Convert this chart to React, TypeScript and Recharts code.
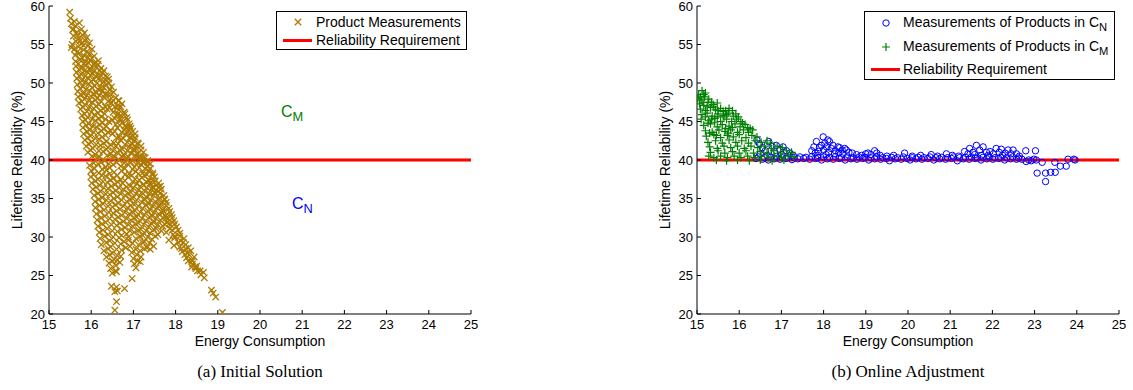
import { ScatterChart, Scatter, XAxis, YAxis, ReferenceLine } from "recharts";

const FONT = '"Liberation Sans", Arial, Helvetica, sans-serif';
const SERIF = '"Liberation Serif", "Times New Roman", serif';

const X_TICKS = [15, 16, 17, 18, 19, 20, 21, 22, 23, 24, 25];
const Y_TICKS = [20, 25, 30, 35, 40, 45, 50, 55, 60];
const REQUIREMENT = 40;

const GOLD = "#ad7a00";
const GREEN = "#008000";
const BLUE = "#0000ff";
const RED = "#ff0000";

// (a) initial solution: product measurements (energy, reliability)
const initialPoints: [number, number][] = [
  [15.49, 59.2], [15.51, 58.4], [15.6, 58.0], [15.53, 57.7], [15.63, 57.4], [15.72, 57.8],
  [15.56, 56.9], [15.66, 56.6], [15.77, 57.0], [15.84, 56.5], [15.58, 56.1], [15.7, 55.8], [15.8, 56.2], [15.9, 55.9],
  [15.55, 55.0], [15.64, 55.4], [15.76, 55.1], [15.86, 55.5], [15.96, 55.2],
  [15.53, 54.6], [15.6, 54.4], [15.7, 54.7], [15.82, 54.3], [15.92, 54.8], [16.02, 54.4],
  [15.62, 53.6], [15.72, 53.9], [15.84, 53.5], [15.96, 53.8], [16.07, 53.5],
  [15.63, 52.8], [15.74, 53.1], [15.86, 52.7], [15.98, 53.0], [16.08, 52.6], [16.17, 52.9],
  [15.64, 52.2], [15.76, 51.9], [15.88, 52.3], [16.0, 51.8], [16.12, 52.1], [16.23, 51.9],
  [15.65, 51.4], [15.77, 51.1], [15.9, 51.5], [16.03, 51.2], [16.15, 51.0], [16.27, 51.3], [16.34, 50.9],
  [15.66, 50.6], [15.78, 50.3], [15.92, 50.7], [16.05, 50.4], [16.18, 50.6], [16.3, 50.2], [16.41, 50.5],
  [15.67, 49.8], [15.8, 49.5], [15.94, 49.9], [16.08, 49.6], [16.22, 49.3], [16.35, 49.8], [16.48, 49.5],
  [15.68, 48.9], [15.82, 48.6], [15.96, 49.0], [16.12, 48.7], [16.26, 48.9], [16.4, 48.5], [16.53, 48.8],
  [15.69, 48.2], [15.84, 47.9], [15.99, 48.3], [16.14, 48.0], [16.3, 48.2], [16.44, 47.8], [16.58, 48.1], [16.66, 47.7],
  [15.71, 47.4], [15.86, 47.1], [16.02, 47.5], [16.18, 47.2], [16.34, 46.9], [16.48, 47.4], [16.62, 47.0], [16.73, 47.3],
  [15.75, 46.6], [15.9, 46.3], [16.06, 46.7], [16.22, 46.4], [16.38, 46.6], [16.52, 46.2], [16.66, 46.5], [16.78, 46.2],
  [15.78, 45.8], [15.92, 45.5], [16.08, 45.9], [16.24, 45.6], [16.56, 45.4], [16.7, 45.8], [16.84, 45.5],
  [15.8, 45.0], [15.94, 44.7], [16.1, 45.1], [16.26, 44.8], [16.42, 45.0], [16.58, 44.6], [16.74, 44.9], [16.9, 44.7],
  [15.8, 44.2], [15.96, 43.9], [16.12, 44.3], [16.3, 44.0], [16.46, 43.8], [16.62, 44.2], [16.78, 43.9], [16.94, 44.1],
  [15.82, 43.4], [15.98, 43.1], [16.16, 43.5], [16.34, 43.2], [16.5, 43.4], [16.66, 43.0], [16.82, 43.3], [16.98, 43.1], [17.04, 43.4],
  [15.85, 42.6], [16.0, 42.3], [16.18, 42.7], [16.36, 42.4], [16.54, 42.2], [16.7, 42.6], [16.86, 42.3], [17.02, 42.5], [17.1, 42.2],
  [15.88, 41.8], [16.04, 41.5], [16.22, 41.9], [16.4, 41.6], [16.58, 41.8], [16.74, 41.4], [16.9, 41.7], [17.06, 41.5], [17.18, 41.8],
  [15.92, 41.0], [16.1, 40.7], [16.28, 41.1], [16.46, 40.8], [16.62, 41.0], [16.78, 40.6], [16.94, 40.9], [17.1, 40.7], [17.24, 41.0],
  [16.14, 40.2], [16.32, 39.9], [16.5, 40.3], [16.66, 40.0], [16.82, 40.2], [16.98, 39.9], [17.14, 40.1], [17.28, 40.3], [17.34, 39.9],
  [15.96, 39.3], [16.16, 39.5], [16.34, 39.1], [16.52, 39.4], [16.7, 39.2], [16.86, 39.5], [17.02, 39.1], [17.18, 39.4], [17.32, 39.2], [17.4, 39.5],
  [16.0, 38.6], [16.18, 38.3], [16.36, 38.7], [16.54, 38.4], [16.72, 38.6], [16.9, 38.2], [17.06, 38.5], [17.22, 38.3], [17.36, 38.6], [17.46, 38.3],
  [15.99, 37.8], [16.16, 37.5], [16.34, 37.9], [16.52, 37.6], [16.7, 37.4], [16.88, 37.8], [17.04, 37.5], [17.2, 37.7], [17.36, 37.4], [17.5, 37.8],
  [16.01, 37.0], [16.2, 36.7], [16.38, 37.1], [16.56, 36.8], [16.74, 37.0], [16.92, 36.6], [17.08, 36.9], [17.24, 36.7], [17.4, 37.0], [17.54, 36.7], [17.6, 37.0],
  [16.04, 36.2], [16.22, 35.9], [16.4, 36.3], [16.58, 36.0], [16.76, 36.2], [16.94, 35.8], [17.12, 36.1], [17.28, 35.9], [17.44, 36.2], [17.58, 35.9], [17.66, 36.2],
  [16.07, 35.4], [16.26, 35.1], [16.44, 35.5], [16.62, 35.2], [16.8, 35.4], [16.98, 35.0], [17.16, 35.3], [17.32, 35.1], [17.48, 35.4], [17.62, 35.1], [17.72, 35.4],
  [16.09, 34.6], [16.28, 34.3], [16.46, 34.7], [16.64, 34.4], [16.84, 34.6], [17.02, 34.2], [17.2, 34.5], [17.36, 34.3], [17.52, 34.6], [17.66, 34.3], [17.78, 34.5],
  [16.1, 33.8], [16.3, 33.5], [16.5, 33.9], [16.68, 33.6], [16.86, 33.8], [17.04, 33.4], [17.22, 33.7], [17.4, 33.5], [17.56, 33.8], [17.7, 33.5], [17.84, 33.7],
  [16.12, 33.0], [16.32, 32.7], [16.52, 33.1], [16.72, 32.8], [16.9, 33.0], [17.08, 32.6], [17.26, 32.9], [17.44, 32.7], [17.6, 33.0], [17.76, 32.7], [17.9, 32.9],
  [16.14, 32.2], [16.34, 31.9], [16.56, 32.3], [16.76, 32.0], [16.94, 32.2], [17.12, 31.8], [17.3, 32.1], [17.48, 31.9], [17.64, 32.2], [17.8, 31.9], [17.96, 32.1],
  [16.16, 31.4], [16.38, 31.1], [16.6, 31.5], [16.8, 31.2], [16.98, 31.4], [17.18, 31.0], [17.36, 31.3], [17.54, 31.1], [17.7, 31.4], [17.86, 31.1], [18.02, 31.3],
  [16.19, 30.6], [16.4, 30.3], [16.62, 30.7], [16.84, 30.4], [17.02, 30.6], [17.22, 30.2], [17.4, 30.5], [17.58, 30.3], [17.78, 30.6], [17.94, 30.3], [18.1, 30.5],
  [16.21, 29.8], [16.44, 29.5], [16.66, 29.9], [16.88, 29.6], [17.06, 29.8], [17.26, 29.4], [17.44, 29.7], [17.84, 29.6], [17.98, 29.9], [18.12, 29.5], [18.2, 29.8],
  [16.24, 29.0], [16.46, 28.7], [16.7, 29.1], [16.92, 28.8], [17.12, 29.0], [17.32, 28.6], [17.48, 28.8], [17.96, 28.9], [18.1, 28.7], [18.24, 29.0], [18.3, 28.6],
  [16.3, 28.2], [16.5, 27.9], [16.72, 28.3], [16.96, 28.0], [17.16, 28.2], [17.4, 28.4], [18.16, 28.1], [18.28, 27.9], [18.36, 28.2],
  [16.36, 27.4], [16.54, 27.1], [16.7, 27.5], [17.0, 27.2], [17.18, 27.4], [18.26, 27.3], [18.38, 27.0], [18.44, 27.4],
  [16.42, 26.6], [16.58, 26.3], [16.68, 26.7], [17.02, 26.5], [17.16, 26.8], [18.4, 26.5], [18.5, 26.2],
  [16.46, 25.9], [16.58, 25.6], [17.06, 26.0], [18.48, 25.9], [18.58, 25.6],
  [16.5, 25.3], [16.6, 25.5], [18.6, 25.1], [18.66, 25.4], [16.97, 24.6], [18.68, 24.7],
  [17.6, 34.0], [17.68, 33.2], [17.74, 34.9], [17.5, 35.8], [17.64, 36.6], [17.46, 36.4], [17.82, 32.4], [17.88, 31.6],
  [16.48, 23.6], [16.6, 23.5], [16.56, 22.9], [16.62, 23.0], [16.79, 23.3], [16.6, 21.6], [16.56, 20.5],
  [18.85, 23.1], [18.89, 22.7], [18.95, 22.2], [19.11, 20.2],
  // denser upper part
  [15.58, 57.0], [15.68, 56.2], [15.74, 55.5], [15.82, 54.9], [15.66, 54.0], [15.9, 54.1], [15.78, 53.3], [15.92, 53.3],
  [16.02, 53.2], [15.7, 52.5], [15.82, 52.5], [15.94, 52.6], [16.06, 52.4], [16.16, 52.4], [15.72, 51.7], [15.84, 51.6],
  [15.96, 51.8], [16.08, 51.6], [16.2, 51.6], [16.3, 51.6], [15.72, 50.9], [15.86, 50.9], [16.0, 51.0], [16.12, 50.8],
  [16.24, 50.9], [16.38, 50.8], [15.74, 50.1], [15.86, 50.1], [16.0, 50.2], [16.14, 50.0], [16.26, 50.0], [16.42, 50.0],
  [15.74, 49.3], [15.88, 49.2], [16.02, 49.4], [16.16, 49.2], [16.3, 49.4], [16.44, 49.1], [15.76, 48.5], [15.9, 48.4],
  [16.06, 48.6], [16.2, 48.4], [16.34, 48.6], [15.78, 47.6], [15.94, 47.7], [16.1, 47.8], [16.24, 47.6], [16.4, 47.6],
  [15.8, 46.9], [15.96, 46.9], [16.12, 47.0], [16.28, 46.7], [16.44, 46.8], [15.84, 46.0], [16.0, 46.2], [16.16, 46.1],
  [16.32, 46.0], [16.62, 45.9], [15.86, 45.2], [16.02, 45.3], [16.18, 45.4], [16.34, 45.3], [16.5, 45.2], [16.66, 45.2],
  // denser right-edge band
  [16.46, 48.5], [16.64, 47.7], [16.52, 47.7], [16.7, 46.9], [16.56, 46.9], [16.8, 46.0], [16.64, 46.0],
  [16.86, 45.2], [16.72, 45.2], [16.92, 44.4], [16.8, 44.4], [16.98, 43.7], [16.86, 43.7], [17.04, 42.9], [16.92, 42.9],
  [17.12, 42.1], [16.98, 42.1], [17.18, 41.3], [17.04, 41.3], [17.24, 40.4], [17.12, 40.4], [17.34, 39.7], [17.22, 39.7],
  [17.4, 38.9], [17.28, 38.9], [17.46, 38.1], [17.32, 38.1], [17.52, 37.3], [17.38, 37.3], [17.6, 36.5], [17.46, 36.5],
  [17.64, 35.7], [17.52, 35.7], [17.74, 34.9], [17.6, 34.9], [17.78, 34.1], [17.64, 34.1], [17.86, 33.3], [17.72, 33.3],
  [17.92, 32.5], [17.78, 32.5], [17.98, 31.7], [17.84, 31.7], [18.06, 30.9], [17.92, 30.9], [18.1, 30.1], [17.98, 30.1],
  [18.18, 29.3], [18.06, 29.3], [18.24, 28.5], [18.14, 28.5], [18.32, 27.7], [18.22, 27.7], [18.4, 26.9], [18.3, 26.9],
  [18.46, 26.1], [18.38, 26.1], [18.52, 25.6],
  // interior fill
  [15.88, 44.5], [16.04, 44.4], [16.2, 44.6], [16.36, 44.4], [16.68, 44.5], [16.84, 44.3],
  [15.9, 43.7], [16.06, 43.6], [16.24, 43.8], [16.4, 43.6], [16.56, 43.7], [16.72, 43.6], [16.9, 43.8],
  [15.92, 42.9], [16.1, 42.8], [16.26, 43.0], [16.6, 42.9], [16.76, 42.8], [16.94, 43.0],
  [15.94, 42.1], [16.12, 42.0], [16.3, 42.2], [16.46, 42.0], [16.64, 42.1], [16.8, 42.0], [16.96, 42.2],
  [15.98, 41.3], [16.18, 41.2], [16.36, 41.4], [16.52, 41.2], [16.68, 41.3], [16.86, 41.2], [17.0, 41.4],
  [16.02, 40.5], [16.2, 40.4], [16.38, 40.6], [16.56, 40.4], [16.72, 40.5], [16.88, 40.4], [17.04, 40.6], [17.18, 40.4],
  [16.06, 39.6], [16.24, 39.7], [16.42, 39.5], [16.6, 39.7], [16.78, 39.6], [16.94, 39.7], [17.1, 39.6], [17.26, 39.7],
  [16.08, 38.9], [16.26, 38.8], [16.44, 39.0], [16.8, 38.9], [16.98, 38.8], [17.14, 39.0],
  [16.06, 38.1], [16.26, 38.0], [16.44, 38.2], [16.62, 38.0], [16.8, 38.1], [16.96, 38.0], [17.12, 38.2], [17.26, 38.0],
  [16.1, 37.3], [16.28, 37.2], [16.46, 37.4], [16.62, 37.2], [16.8, 37.3], [16.98, 37.2], [17.14, 37.4], [17.3, 37.2], [17.46, 37.3],
  [16.12, 36.5], [16.3, 36.4], [16.48, 36.6], [16.66, 36.4], [16.84, 36.5], [17.0, 36.4], [17.16, 36.6], [17.32, 36.4],
  [16.16, 35.7], [16.34, 35.6], [16.52, 35.8], [16.7, 35.6], [16.88, 35.7], [17.06, 35.6], [17.2, 35.8], [17.38, 35.6],
  [16.18, 34.9], [16.36, 34.8], [16.54, 35.0], [16.72, 34.8], [16.92, 34.9], [17.08, 34.8], [17.26, 35.0], [17.42, 34.8],
  [16.2, 34.1], [16.4, 34.0], [16.58, 34.2], [16.76, 34.0], [16.94, 34.1], [17.12, 34.0], [17.3, 34.2], [17.46, 34.0],
  [16.22, 33.3], [16.42, 33.2], [16.6, 33.4], [16.8, 33.2], [16.98, 33.3], [17.16, 33.2], [17.34, 33.4], [17.5, 33.2],
  [16.24, 32.5], [16.44, 32.4], [16.64, 32.6], [16.84, 32.4], [17.02, 32.5], [17.2, 32.4], [17.38, 32.6], [17.54, 32.4], [17.7, 32.5],
  [16.26, 31.7], [16.48, 31.6], [16.68, 31.8], [16.88, 31.6], [17.06, 31.7], [17.24, 31.6], [17.42, 31.8], [17.58, 31.6], [17.74, 31.7],
  [16.28, 30.9], [16.5, 30.8], [16.72, 31.0], [16.92, 30.8], [17.12, 30.9], [17.3, 30.8], [17.48, 31.0], [17.66, 30.8],
  [16.32, 30.1], [16.52, 30.0], [16.72, 30.2], [16.88, 30.0], [17.16, 30.1], [17.34, 30.0], [17.52, 30.1],
  [16.36, 29.3], [16.56, 29.2], [16.78, 29.4], [16.98, 29.2], [17.22, 29.3], [17.38, 29.2],
  [16.4, 28.5], [16.6, 28.4], [16.82, 28.6], [17.06, 28.4], [17.26, 28.5],
  [16.44, 27.7], [16.62, 27.6], [17.08, 27.7], [16.5, 26.9], [16.62, 27.0], [17.1, 26.9],
];

// (b) online adjustment: products in C_M
const cmPoints: [number, number][] = [
  [15.04, 48.5], [15.12, 49.0], [15.2, 48.7],
  [15.02, 48.0], [15.1, 47.8], [15.18, 48.2], [15.28, 47.9],
  [15.06, 47.3], [15.16, 47.1], [15.26, 47.5], [15.38, 47.2], [15.48, 47.4],
  [15.08, 46.6], [15.2, 46.4], [15.32, 46.8], [15.44, 46.5], [15.56, 46.7], [15.68, 46.4], [15.76, 46.7],
  [15.12, 45.9], [15.24, 46.1], [15.36, 45.7], [15.5, 46.0], [15.62, 45.8], [15.74, 46.1], [15.86, 45.7], [15.92, 46.0],
  [15.1, 45.3], [15.28, 45.1], [15.42, 45.4], [15.56, 45.0], [15.7, 45.3], [15.82, 45.0], [15.94, 45.3], [16.04, 45.0],
  [15.16, 44.5], [15.32, 44.7], [15.48, 44.3], [15.6, 44.6], [15.76, 44.4], [15.9, 44.7], [16.02, 44.3], [16.14, 44.6], [16.2, 44.2],
  [15.2, 43.8], [15.36, 43.6], [15.52, 43.9], [15.66, 43.7], [15.8, 43.9], [15.96, 43.6], [16.1, 43.9], [16.22, 43.6], [16.32, 43.9],
  [15.22, 43.1], [15.4, 43.3], [15.56, 42.9], [15.72, 43.2], [15.86, 43.0], [16.0, 43.3], [16.16, 42.9], [16.3, 43.2], [16.42, 43.0],
  [15.26, 42.3], [15.44, 42.5], [15.6, 42.2], [15.76, 42.6], [15.92, 42.3], [16.06, 42.5], [16.22, 42.2], [16.38, 42.5], [16.52, 42.3], [16.66, 42.5], [16.74, 42.2],
  [15.3, 41.7], [15.48, 41.5], [15.64, 41.8], [15.8, 41.6], [15.96, 41.8], [16.12, 41.5], [16.28, 41.8], [16.44, 41.6], [16.6, 41.8], [16.76, 41.5], [16.9, 41.8], [17.02, 41.6],
  [15.32, 41.0], [15.5, 41.2], [15.66, 40.9], [15.84, 41.1], [16.0, 40.9], [16.16, 41.2], [16.34, 40.9], [16.5, 41.1], [16.66, 40.9], [16.82, 41.2], [16.98, 40.9], [17.12, 41.2], [17.24, 41.0],
  [15.28, 40.5], [15.4, 40.3], [15.56, 40.5], [15.72, 40.3], [15.88, 40.5], [16.04, 40.3], [16.2, 40.5], [16.36, 40.3], [16.52, 40.5], [16.68, 40.3], [16.84, 40.5], [17.0, 40.3], [17.16, 40.5], [17.3, 40.4],
  [15.46, 40.0], [15.7, 39.9], [15.96, 40.0], [16.24, 39.9], [16.5, 40.0], [16.78, 39.9], [17.06, 40.0],
  [15.08, 48.2], [15.16, 48.5], [15.14, 47.5], [15.24, 47.0], [15.34, 47.5], [15.4, 46.9], [15.5, 46.4], [15.62, 46.3],
  [15.7, 45.9], [15.84, 46.4], [15.2, 45.6], [15.34, 45.3], [15.48, 45.6], [15.64, 45.6], [15.98, 45.6], [16.08, 44.8],
  [15.26, 44.8], [15.42, 44.9], [15.68, 44.1], [15.84, 44.2], [16.26, 44.1], [15.3, 43.5], [15.46, 43.2], [15.74, 43.5],
];

// (b) online adjustment: products in C_N
const cnPoints: [number, number][] = [
  [16.42, 42.6], [16.48, 42.1], [16.55, 41.6], [16.62, 41.2], [16.7, 42.4], [16.78, 41.8], [16.88, 41.9], [16.96, 41.4],
  [17.04, 41.7], [17.12, 41.2], [17.2, 40.9], [16.5, 40.8], [16.66, 40.6], [16.84, 40.9], [17.0, 40.7], [17.28, 40.6],
  [17.72, 41.2], [17.77, 41.7], [17.83, 42.4], [17.9, 41.6], [17.95, 41.9], [17.99, 43.0], [18.03, 42.2], [18.07, 41.7],
  [18.1, 42.6], [18.14, 42.4], [18.18, 41.5], [18.22, 41.9], [18.28, 41.2], [18.34, 41.7], [18.38, 41.6], [18.44, 41.3],
  [18.5, 41.5], [18.54, 41.3], [18.6, 41.0], [17.8, 40.9], [17.88, 41.1], [18.0, 41.3], [18.12, 41.0], [18.26, 40.8],
  [18.46, 40.8], [17.86, 40.6], [18.06, 40.7], [18.36, 40.9],
  [18.68, 40.9], [18.78, 40.7], [18.9, 40.6], [19.0, 40.8], [19.05, 40.9], [19.12, 40.7], [19.21, 41.2], [19.26, 40.9], [19.34, 40.6],
  [19.5, 40.5], [19.66, 40.6], [19.92, 40.9], [20.1, 40.5], [20.3, 40.6], [20.55, 40.7], [20.7, 40.5], [20.91, 40.8], [21.05, 40.6], [21.2, 40.5],
  [21.34, 41.1], [21.42, 40.8], [21.46, 41.5], [21.54, 41.0], [21.62, 41.9], [21.7, 41.3], [21.78, 41.7], [21.86, 41.0],
  [21.94, 41.1], [22.02, 40.8], [22.09, 41.5], [22.16, 41.0], [22.21, 41.4], [22.3, 40.9], [22.37, 41.3], [22.44, 40.8],
  [22.49, 41.3], [22.57, 40.8], [22.64, 40.5], [21.58, 40.7], [21.74, 40.6], [21.9, 40.6], [22.24, 40.6],
  [16.4, 40.2], [16.46, 40.4], [16.55, 40.1], [16.6, 40.3], [16.69, 40.0], [16.75, 40.35], [16.83, 40.15], [16.88, 40.45],
  [16.97, 40.1], [17.02, 40.3], [17.11, 40.2], [17.16, 40.4], [17.25, 40.05], [17.3, 40.3], [17.39, 40.15], [17.44, 40.4],
  [17.53, 40.2], [17.58, 40.35], [17.67, 40.1], [17.72, 40.45], [17.81, 40.2], [17.86, 40.3], [17.95, 40.0], [18.0, 40.4],
  [18.09, 40.15], [18.14, 40.35], [18.23, 40.1], [18.28, 40.45], [18.37, 40.2], [18.42, 40.3], [18.51, 40.0], [18.56, 40.4],
  [18.65, 40.15], [18.7, 40.3], [18.79, 40.1], [18.84, 40.4], [18.93, 40.2], [18.98, 40.35], [19.07, 40.0], [19.12, 40.3],
  [19.21, 40.15], [19.26, 40.4], [19.35, 40.1], [19.4, 40.3], [19.49, 40.2], [19.56, 39.9], [19.61, 40.35], [19.7, 40.15],
  [19.75, 40.3], [19.84, 40.1], [19.89, 40.4], [19.98, 40.2], [20.05, 40.0], [20.1, 40.3], [20.19, 40.15], [20.24, 40.35],
  [20.33, 40.1], [20.38, 40.3], [20.47, 40.2], [20.52, 40.4], [20.61, 40.0], [20.66, 40.3], [20.75, 40.15], [20.8, 40.35],
  [20.89, 40.1], [20.94, 40.3], [21.03, 40.2], [21.08, 40.4], [21.17, 39.9], [21.22, 40.3], [21.31, 40.15], [21.36, 40.35],
  [21.45, 40.1], [21.5, 40.4], [21.59, 40.2], [21.64, 40.3], [21.73, 40.0], [21.78, 40.35], [21.87, 40.15], [21.92, 40.4],
  [22.01, 40.1], [22.06, 40.3], [22.15, 40.2], [22.2, 40.35], [22.29, 40.0], [22.34, 40.3], [22.43, 40.15], [22.48, 40.4],
  [22.57, 40.1], [22.62, 40.25], [22.7, 40.1],
  [22.79, 41.2], [23.02, 41.2], [22.8, 39.8], [22.86, 40.0], [22.92, 39.9], [22.98, 40.1], [23.04, 40.0], [23.18, 39.7],
  [23.06, 38.3], [23.26, 38.3], [23.38, 38.4], [23.49, 38.4], [23.26, 37.2], [23.48, 39.7], [23.61, 39.2], [23.75, 39.2],
  [23.79, 40.1], [23.93, 40.1], [23.96, 40.0],
];

const toData = (pts: [number, number][]) => pts.map(([x, y]) => ({ x, y }));

const XMark = (props: any) => {
  const { cx, cy } = props;
  const s = 3.2;
  return (
    <path
      d={`M${cx - s},${cy - s}L${cx + s},${cy + s}M${cx - s},${cy + s}L${cx + s},${cy - s}`}
      stroke={GOLD}
      strokeWidth={1.3}
      fill="none"
    />
  );
};

const PlusMark = (props: any) => {
  const { cx, cy } = props;
  const s = 4;
  return (
    <path d={`M${cx - s},${cy}L${cx + s},${cy}M${cx},${cy - s}L${cx},${cy + s}`} stroke={GREEN} strokeWidth={1.2} fill="none" />
  );
};

const CircleMark = (props: any) => {
  const { cx, cy } = props;
  return <circle cx={cx} cy={cy} r={3.2} stroke={BLUE} strokeWidth={1} fill="none" />;
};

const noTick = () => <g />;

function frame() {
  const tickStyle = { fontSize: 13, fill: "#000", fontFamily: FONT };
  return [
    <XAxis key="xb" xAxisId="b" dataKey="x" type="number" domain={[15, 25]} ticks={X_TICKS} interval={0}
      height={26} tickSize={-4} tickMargin={10} tick={tickStyle} stroke="#000" allowDataOverflow />,
    <XAxis key="xt" xAxisId="t" dataKey="x" orientation="top" type="number" domain={[15, 25]} ticks={X_TICKS} interval={0}
      height={0} tickSize={-4} tick={noTick} stroke="#000" allowDataOverflow />,
    <YAxis key="yl" yAxisId="l" dataKey="y" type="number" domain={[20, 60]} ticks={Y_TICKS} interval={0}
      width={49} tickSize={-4} tickMargin={8} tick={tickStyle} stroke="#000" allowDataOverflow />,
    <YAxis key="yr" yAxisId="r" dataKey="y" orientation="right" type="number" domain={[20, 60]} ticks={Y_TICKS} interval={0}
      width={0} tickSize={-4} tick={noTick} stroke="#000" allowDataOverflow />,
  ];
}

const MARGIN = { top: 6, right: 9, bottom: 0, left: 0 };

const Sub = ({ c, s, color }: { c: string; s: string; color?: string }) => (
  <span style={{ color }}>
    {c}
    <span style={{ fontSize: "0.8em", position: "relative", top: "0.35em" }}>{s}</span>
  </span>
);

const abs = (left: number, top: number, extra: any = {}) => ({ position: "absolute" as const, left, top, ...extra });

function LegendLine({ left, top, width }: { left: number; top: number; width: number }) {
  return <div style={abs(left, top - 1.5, { width, height: 3, background: RED })} />;
}

function Captions({ cx, caption }: { cx: number; caption: string }) {
  return (
    <>
      <div style={abs(cx - 100, 152, { width: 200, textAlign: "center", transform: "translateX(-243px) rotate(-90deg)",
        fontFamily: FONT, fontSize: 14, lineHeight: "16px" })}>
        Lifetime Reliability (%)
      </div>
      <div style={abs(cx - 100, 333, { width: 200, textAlign: "center", fontFamily: FONT, fontSize: 14, lineHeight: "16px" })}>
        Energy Consumption
      </div>
      <div style={abs(cx - 150, 362, { width: 300, textAlign: "center", fontFamily: SERIF, fontSize: 17, lineHeight: "20px" })}>
        {caption}
      </div>
    </>
  );
}

export default function App() {
  const initial = toData(initialPoints);
  const cm = toData(cmPoints);
  const cn = toData(cnPoints);

  return (
    <div style={{ position: "absolute", left: 0, top: 0, width: 1133, height: 390, background: "#fff", overflow: "hidden" }}>
      <div style={abs(0, 0)}>
        <ScatterChart width={480} height={340} margin={MARGIN}>
          {frame()}
          <Scatter name="Product Measurements" data={initial} xAxisId="b" yAxisId="l" shape={XMark} isAnimationActive={false} />
          <ReferenceLine y={REQUIREMENT} xAxisId="b" yAxisId="l" stroke={RED} strokeWidth={3} />
        </ScatterChart>
      </div>
      <div style={abs(648, 0)}>
        <ScatterChart width={480} height={340} margin={MARGIN}>
          {frame()}
          <Scatter name="Measurements of Products in CN" data={cn} xAxisId="b" yAxisId="l" shape={CircleMark} isAnimationActive={false} />
          <Scatter name="Measurements of Products in CM" data={cm} xAxisId="b" yAxisId="l" shape={PlusMark} isAnimationActive={false} />
          <ReferenceLine y={REQUIREMENT} xAxisId="b" yAxisId="l" stroke={RED} strokeWidth={3} />
        </ScatterChart>
      </div>

      <Captions cx={260} caption="(a) Initial Solution" />
      <Captions cx={908} caption="(b) Online Adjustment" />

      {/* annotations in panel (a) */}
      <div style={abs(281, 104, { fontFamily: FONT, fontSize: 16, lineHeight: "16px", color: GREEN })}>
        <Sub c="C" s="M" />
      </div>
      <div style={abs(292, 196, { fontFamily: FONT, fontSize: 16, lineHeight: "16px", color: BLUE })}>
        <Sub c="C" s="N" />
      </div>

      {/* legend (a) */}
      <div style={abs(276, 11, { width: 189, height: 37, border: "1px solid #000", background: "#fff",
        fontFamily: FONT, fontSize: 14, lineHeight: "16px" })}>
        <svg style={abs(14, 3)} width={14} height={14}>
          <XMark cx={7} cy={7} />
        </svg>
        <div style={abs(39, 2)}>Product Measurements</div>
        <LegendLine left={6} top={28} width={29} />
        <div style={abs(39, 20)}>Reliability Requirement</div>
      </div>

      {/* legend (b) */}
      <div style={abs(864, 11, { width: 249, height: 67, border: "1px solid #000", background: "#fff",
        fontFamily: FONT, fontSize: 14, lineHeight: "16px" })}>
        <svg style={abs(14, 4)} width={14} height={14}>
          <CircleMark cx={7} cy={7} />
        </svg>
        <div style={abs(38, 2)}>Measurements of Products in <Sub c="C" s="N" /></div>
        <svg style={abs(14, 28)} width={14} height={14}>
          <PlusMark cx={7} cy={7} />
        </svg>
        <div style={abs(38, 26)}>Measurements of Products in <Sub c="C" s="M" /></div>
        <LegendLine left={6} top={57} width={29} />
        <div style={abs(38, 49)}>Reliability Requirement</div>
      </div>
    </div>
  );
}
